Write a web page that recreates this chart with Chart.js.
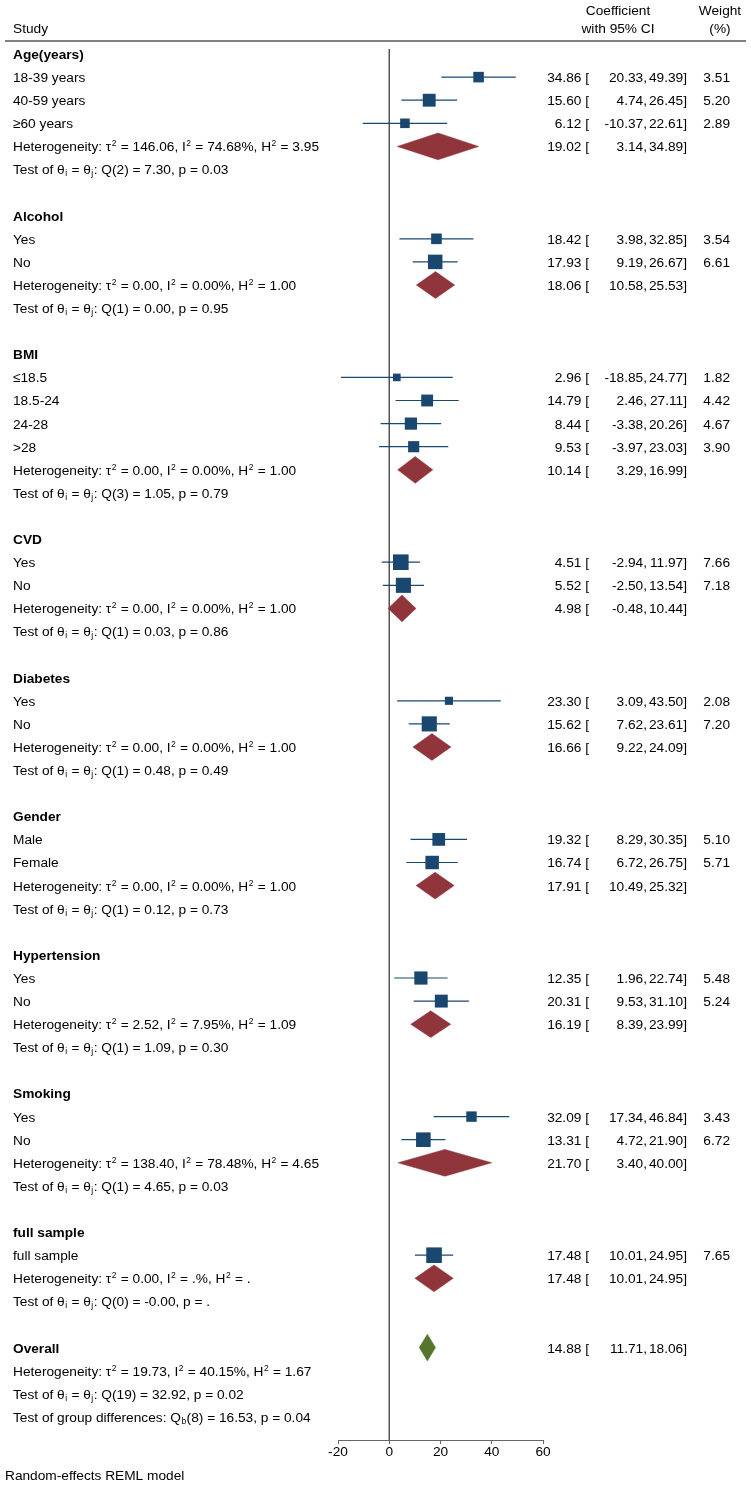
<!DOCTYPE html>
<html>
<head>
<meta charset="utf-8">
<script src="https://cdn.jsdelivr.net/npm/chart.js@4.4.1/dist/chart.umd.min.js"></script>
<style>
html, body { margin: 0; padding: 0; background: #fff; }
canvas { display: block; }
</style>
</head>
<body>
<canvas id="forest" width="751" height="1487"></canvas>
<script>
// subgroups and their studies
var groups = ['Age(years)', 'Alcohol', 'BMI', 'CVD', 'Diabetes', 'Gender', 'Hypertension', 'Smoking', 'full sample'];
var studyLabels = [
    ['18-39 years', '40-59 years', '≥60 years'],
    ['Yes', 'No'],
    ['≤18.5', '18.5-24', '24-28', '>28'],
    ['Yes', 'No'],
    ['Yes', 'No'],
    ['Male', 'Female'],
    ['Yes', 'No'],
    ['Yes', 'No'],
    ['full sample']
];
var studyEst = [[34.86, 15.60, 6.12], [18.42, 17.93], [2.96, 14.79, 8.44, 9.53], [4.51, 5.52], [23.30, 15.62], [19.32, 16.74], [12.35, 20.31], [32.09, 13.31], [17.48]];
var studyLo = [[20.33, 4.74, -10.37], [3.98, 9.19], [-18.85, 2.46, -3.38, -3.97], [-2.94, -2.50], [3.09, 7.62], [8.29, 6.72], [1.96, 9.53], [17.34, 4.72], [10.01]];
var studyHi = [[49.39, 26.45, 22.61], [32.85, 26.67], [24.77, 27.11, 20.26, 23.03], [11.97, 13.54], [43.50, 23.61], [30.35, 26.75], [22.74, 31.10], [46.84, 21.90], [24.95]];
var studyWeight = [[3.51, 5.20, 2.89], [3.54, 6.61], [1.82, 4.42, 4.67, 3.90], [7.66, 7.18], [2.08, 7.20], [5.10, 5.71], [5.48, 5.24], [3.43, 6.72], [7.65]];

var groupEst = [19.02, 18.06, 10.14, 4.98, 16.66, 17.91, 16.19, 21.70, 17.48];
var groupLo = [3.14, 10.58, 3.29, -0.48, 9.22, 10.49, 8.39, 3.40, 10.01];
var groupHi = [34.89, 25.53, 16.99, 10.44, 24.09, 25.32, 23.99, 40.00, 24.95];
var hetText = [
    'Heterogeneity: τ^2 = 146.06, I^2 = 74.68%, H^2 = 3.95',
    'Heterogeneity: τ^2 = 0.00, I^2 = 0.00%, H^2 = 1.00',
    'Heterogeneity: τ^2 = 0.00, I^2 = 0.00%, H^2 = 1.00',
    'Heterogeneity: τ^2 = 0.00, I^2 = 0.00%, H^2 = 1.00',
    'Heterogeneity: τ^2 = 0.00, I^2 = 0.00%, H^2 = 1.00',
    'Heterogeneity: τ^2 = 0.00, I^2 = 0.00%, H^2 = 1.00',
    'Heterogeneity: τ^2 = 2.52, I^2 = 7.95%, H^2 = 1.09',
    'Heterogeneity: τ^2 = 138.40, I^2 = 78.48%, H^2 = 4.65',
    'Heterogeneity: τ^2 = 0.00, I^2 = .%, H^2 = .'
];
var testText = [
    'Test of θ_i = θ_j: Q(2) = 7.30, p = 0.03',
    'Test of θ_i = θ_j: Q(1) = 0.00, p = 0.95',
    'Test of θ_i = θ_j: Q(3) = 1.05, p = 0.79',
    'Test of θ_i = θ_j: Q(1) = 0.03, p = 0.86',
    'Test of θ_i = θ_j: Q(1) = 0.48, p = 0.49',
    'Test of θ_i = θ_j: Q(1) = 0.12, p = 0.73',
    'Test of θ_i = θ_j: Q(1) = 1.09, p = 0.30',
    'Test of θ_i = θ_j: Q(1) = 4.65, p = 0.03',
    'Test of θ_i = θ_j: Q(0) = -0.00, p = .'
];

// overall pooled estimate
var overallEst = 14.88, overallLo = 11.71, overallHi = 18.06;
var overallHet = 'Heterogeneity: τ^2 = 19.73, I^2 = 40.15%, H^2 = 1.67';
var overallTest = 'Test of θ_i = θ_j: Q(19) = 32.92, p = 0.02';
var groupDiffText = 'Test of group differences: Q_b(8) = 16.53, p = 0.04';

var xTicks = [-20, 0, 20, 40, 60];

var NAVY = '#1a476f', MAROON = '#90353b', GREEN = '#55752f';
var FONT = '"Liberation Sans", Arial, sans-serif';
var FS = 13.7;

// lay the rows out top to bottom
var rows = [], studies = [], diamonds = [];
var r = 0;
groups.forEach(function (g, gi) {
    rows.push({ y: r++, text: g, bold: true });
    studyLabels[gi].forEach(function (lab, si) {
        var s = { y: r, est: studyEst[gi][si], lo: studyLo[gi][si], hi: studyHi[gi][si], w: studyWeight[gi][si] };
        studies.push(s);
        rows.push({ y: r, text: lab, est: s.est, lo: s.lo, hi: s.hi, w: s.w });
        r++;
    });
    diamonds.push({ y: r, est: groupEst[gi], lo: groupLo[gi], hi: groupHi[gi], color: MAROON });
    rows.push({ y: r, text: hetText[gi], est: groupEst[gi], lo: groupLo[gi], hi: groupHi[gi] });
    r++;
    rows.push({ y: r++, text: testText[gi] });
    r++;
});
diamonds.push({ y: r, est: overallEst, lo: overallLo, hi: overallHi, color: GREEN });
rows.push({ y: r++, text: 'Overall', bold: true, est: overallEst, lo: overallLo, hi: overallHi });
rows.push({ y: r++, text: overallHet });
rows.push({ y: r++, text: overallTest });
rows.push({ y: r++, text: groupDiffText });

var datasets = [];
datasets.push({
    data: [{ x: 0, y: -0.22 }, { x: 0, y: 60 }],
    showLine: true, borderColor: '#555', borderWidth: 1.5, pointRadius: 0, order: 10
});
studies.forEach(function (s) {
    datasets.push({
        data: [{ x: s.lo, y: s.y }, { x: s.hi, y: s.y }],
        showLine: true, borderColor: NAVY, borderWidth: 1.2, pointRadius: 0, order: 5
    });
});
datasets.push({
    data: studies.map(function (s) { return { x: s.est, y: s.y }; }),
    pointStyle: 'rect',
    pointRadius: function (ctx) { return 3.99 * Math.sqrt(studies[ctx.dataIndex].w); },
    backgroundColor: NAVY, borderWidth: 0, order: 1
});
diamonds.forEach(function (d) {
    datasets.push({
        data: [{ x: d.lo, y: d.y }, { x: d.est, y: d.y - 0.58 }, { x: d.hi, y: d.y }, { x: d.est, y: d.y + 0.58 }, { x: d.lo, y: d.y }],
        showLine: true, fill: 'shape', backgroundColor: d.color, borderColor: d.color,
        borderWidth: 0.5, pointRadius: 0, order: 2
    });
});

// text with ^x superscripts and _x subscripts
function drawRich(ctx, str, x, y, bold) {
    var base = (bold ? 'bold ' : '') + FS + 'px ' + FONT;
    var small = (FS * 0.62) + 'px ' + FONT;
    var by = y + FS * 0.36;
    ctx.textAlign = 'left';
    ctx.textBaseline = 'alphabetic';
    var buf = '';
    function flush() {
        if (!buf) return;
        ctx.font = base;
        ctx.fillText(buf, x, by);
        x += ctx.measureText(buf).width;
        buf = '';
    }
    for (var i = 0; i < str.length; i++) {
        var c = str[i];
        if ((c === '^' || c === '_') && i + 1 < str.length) {
            flush();
            ctx.font = small;
            var ch = str[++i];
            ctx.fillText(ch, x + 0.5, c === '^' ? by - FS * 0.36 : by + FS * 0.15);
            x += ctx.measureText(ch).width + 1;
        } else {
            buf += c;
        }
    }
    flush();
}

function rightText(ctx, str, x, y) {
    ctx.font = FS + 'px ' + FONT;
    ctx.textAlign = 'right';
    ctx.textBaseline = 'alphabetic';
    ctx.fillText(str, x, y + FS * 0.36);
}

var textPlugin = {
    id: 'forestText',
    afterDraw: function (chart) {
        var ctx = chart.ctx;
        var ys = chart.scales.y;
        ctx.save();
        ctx.fillStyle = '#000';

        // header
        drawRich(ctx, 'Study', 13, 28, false);
        ctx.font = FS + 'px ' + FONT;
        ctx.textAlign = 'center';
        ctx.textBaseline = 'alphabetic';
        ctx.fillText('Coefficient', 618, 10 + FS * 0.36);
        ctx.fillText('with 95% CI', 618, 28 + FS * 0.36);
        ctx.fillText('Weight', 720, 10 + FS * 0.36);
        ctx.fillText('(%)', 720, 28 + FS * 0.36);
        ctx.strokeStyle = '#808080';
        ctx.lineWidth = 2;
        ctx.beginPath();
        ctx.moveTo(5, 41);
        ctx.lineTo(746, 41);
        ctx.stroke();

        rows.forEach(function (row) {
            var y = ys.getPixelForValue(row.y);
            drawRich(ctx, row.text, 13, y, row.bold);
            if (row.est !== undefined) {
                rightText(ctx, row.est.toFixed(2) + ' [', 589, y);
                rightText(ctx, row.lo.toFixed(2) + ',', 647, y);
                rightText(ctx, row.hi.toFixed(2) + ']', 687, y);
            }
            if (row.w !== undefined) {
                rightText(ctx, row.w.toFixed(2), 730, y);
            }
        });

        drawRich(ctx, 'Random-effects REML model', 5, 1475, false);
        ctx.restore();
    }
};

Chart.defaults.font.family = FONT;
Chart.defaults.font.size = FS;
Chart.defaults.color = '#000';

var canvas = document.getElementById('forest');
var ctx = canvas.getContext('2d');

var forest = new Chart(ctx, {
    type: 'scatter',
    data: { datasets: datasets },
    options: {
        responsive: false,
        animation: false,
        events: [],
        layout: { padding: { left: 338, right: 208, top: 42, bottom: 0 } },
        plugins: { legend: { display: false }, tooltip: { enabled: false } },
        scales: {
            x: {
                type: 'linear',
                position: 'bottom',
                min: -20,
                max: 60,
                afterBuildTicks: function (scale) {
                    scale.ticks = xTicks.map(function (v) { return { value: v }; });
                },
                afterFit: function (scale) { scale.height = 47; },
                grid: { drawOnChartArea: false, drawTicks: true, tickLength: 4, tickColor: '#666' },
                border: { display: true, color: '#666', width: 1 },
                ticks: { padding: 0, color: '#000', font: { size: FS } }
            },
            y: {
                type: 'linear',
                reverse: true,
                min: -0.52,
                max: 60,
                display: false
            }
        }
    },
    plugins: [textPlugin]
});
</script>
</body>
</html>
